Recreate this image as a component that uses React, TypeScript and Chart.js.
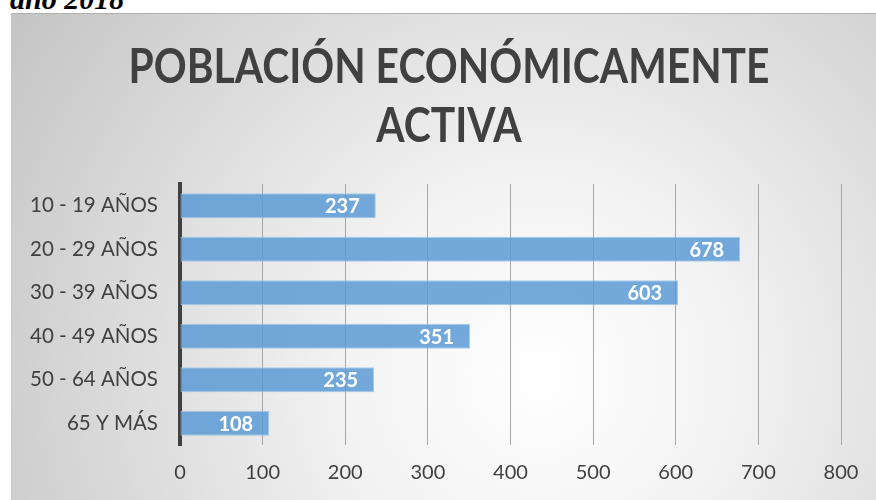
import React, { useEffect, useRef } from "react";
import { Chart, registerables } from "chart.js";

Chart.register(...registerables);

const categories = ["10 - 19 AÑOS", "20 - 29 AÑOS", "30 - 39 AÑOS", "40 - 49 AÑOS", "50 - 64 AÑOS", "65 Y MÁS"];
const values = [237, 678, 603, 351, 235, 108];
const titleLines = ["POBLACIÓN ECONÓMICAMENTE", "ACTIVA"];
const xMax = 800;
const xStep = 100;

const FONT = "Lato, 'Open Sans', sans-serif";

const bgPlugin = {
  id: "radialBg",
  beforeDraw(chart: any) {
    const ctx = chart.ctx;
    const w = chart.width;
    const h = chart.height;
    ctx.save();
    const cx = w * 0.6;
    const cy = h * 0.72;
    const r = Math.hypot(cx, cy);
    const g = ctx.createRadialGradient(cx, cy, 0, cx, cy, r);
    g.addColorStop(0, "#ffffff");
    g.addColorStop(0.3, "#f3f3f3");
    g.addColorStop(1, "#c4c4c4");
    ctx.fillStyle = g;
    ctx.fillRect(0, 0, w, h);
    ctx.restore();
  },
};

const labelPlugin = {
  id: "barLabels",
  afterDatasetsDraw(chart: any) {
    const ctx = chart.ctx;
    const meta = chart.getDatasetMeta(0);
    ctx.save();
    ctx.fillStyle = "#ffffff";
    ctx.font = `bold 20px ${FONT}`;
    ctx.textAlign = "right";
    ctx.textBaseline = "middle";
    meta.data.forEach((bar: any, i: number) => {
      ctx.fillText(String(values[i]), bar.x - 16, bar.y + 1);
    });
    ctx.restore();
  },
};

const titlePlugin = {
  id: "condensedTitle",
  afterDraw(chart: any) {
    const ctx = chart.ctx;
    ctx.save();
    ctx.fillStyle = "#404040";
    ctx.font = `bold 48px ${FONT}`;
    ctx.textAlign = "center";
    ctx.textBaseline = "alphabetic";
    const cx = 437;
    const baselines = [69, 128];
    titleLines.forEach((line, i) => {
      ctx.save();
      ctx.translate(cx, baselines[i]);
      ctx.scale(0.85, 1);
      ctx.fillText(line, 0, 0);
      ctx.restore();
    });
    ctx.restore();
  },
};

export default function App() {
  const ref = useRef<HTMLCanvasElement | null>(null);
  useEffect(() => {
    if (!ref.current) return;
    const chart = new Chart(ref.current, {
      type: "bar",
      data: {
        labels: categories,
        datasets: [
          {
            data: values,
            backgroundColor: "rgba(91,155,213,0.85)",
            borderColor: "rgba(160,198,234,0.9)",
            borderWidth: 1,
            borderSkipped: false,
            barPercentage: 0.58,
            categoryPercentage: 1,
          },
        ],
      },
      options: {
        indexAxis: "y",
        animation: false,
        responsive: false,
        maintainAspectRatio: false,
        layout: { padding: { left: -4, right: 51, top: 170, bottom: 13 } },
        plugins: {
          legend: { display: false },
          tooltip: { enabled: false },
          title: { display: false },
        },
        scales: {
          x: {
            min: 0,
            max: xMax,
            ticks: { stepSize: xStep, color: "#404040", font: { family: FONT, size: 20 }, padding: 16 },
            grid: { color: "#a6a6a6", lineWidth: 1, drawTicks: false },
            border: { display: false },
          },
          y: {
            ticks: { color: "#404040", font: { family: FONT, size: 20.5 }, padding: 22 },
            grid: { display: false, drawTicks: false },
            border: { display: true, color: "#404040", width: 4 },
          },
        },
      },
      plugins: [bgPlugin, labelPlugin, titlePlugin],
    });
    return () => chart.destroy();
  }, []);

  return (
    <div style={{ position: "fixed", left: 0, top: 0, width: 876, height: 500, overflow: "hidden", background: "#fff" }}>
      <div
        style={{
          position: "absolute",
          left: 10,
          top: -16,
          fontFamily: "'Liberation Serif', 'Times New Roman', serif",
          fontWeight: "bold",
          fontStyle: "italic",
          fontSize: 30,
          lineHeight: "30px",
          color: "#000",
          whiteSpace: "nowrap",
        }}
      >
        año 2018
      </div>
      <div
        style={{
          position: "absolute",
          left: 11,
          top: 13,
          borderLeft: "1px solid #c8c8c8",
          borderTop: "1px solid #b0b0b0",
        }}
      >
        <canvas ref={ref} width={880} height={500} style={{ display: "block" }} />
      </div>
    </div>
  );
}
